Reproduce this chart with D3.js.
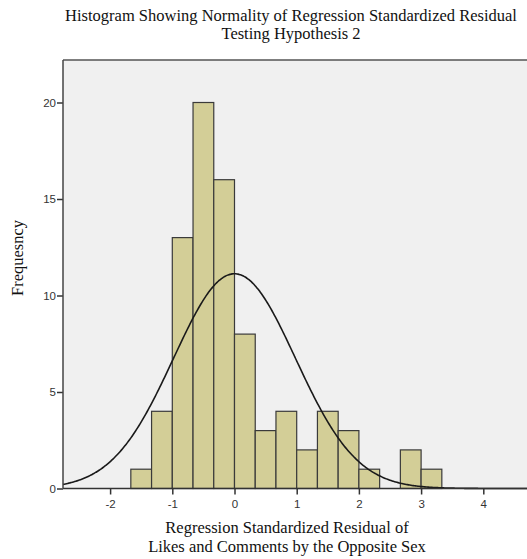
<!DOCTYPE html>
<html>
<head>
<meta charset="utf-8">
<script src="https://d3js.org/d3.v7.min.js"></script>
<style>
  html, body { margin: 0; padding: 0; background: #fff; }
  svg { display: block; }
</style>
</head>
<body>
<div id="chart"></div>
<script>
// Histogram bins (lower edges) of the standardized residuals, width 1/3
const binWidth = 1 / 3;
const binStarts = [-5/3, -4/3, -1, -2/3, -1/3, 0, 1/3, 2/3, 1, 4/3, 5/3, 2, 7/3, 8/3, 3];
const binCounts = [1, 4, 13, 20, 16, 8, 3, 4, 2, 4, 3, 1, 0, 2, 1];

// Normal curve parameters
const sampleMean = 0;
const sampleSD = 0.98;
const sampleN = 82;

// Axis ticks
const xTicks = [-2, -1, 0, 1, 2, 3, 4];
const yTicks = [0, 5, 10, 15, 20];

const titleLines = ["Histogram Showing Normality of Regression Standardized Residual", "Testing Hypothesis 2"];
const xLabelLines = ["Regression Standardized Residual of", "Likes and Comments by the Opposite Sex"];
const yLabel = "Frequesncy";

const W = 527, H = 559;
const plot = { left: 63, top: 60, right: 530, bottom: 488.5 };

const svg = d3.select("#chart").append("svg")
  .attr("width", W).attr("height", H);

const x = d3.scaleLinear().domain([0, 1]).range([234.5, 296.7]);
const y = d3.scaleLinear().domain([0, 20]).range([plot.bottom, 102.5]);

// plot background
svg.append("rect")
  .attr("x", plot.left).attr("y", plot.top)
  .attr("width", plot.right - plot.left).attr("height", plot.bottom - plot.top)
  .attr("fill", "#f0f0f0");

// bars
const bins = binStarts.map((s, i) => ({ x0: s, x1: s + binWidth, n: binCounts[i] }));
svg.append("g").selectAll("rect")
  .data(bins.filter(d => d.n > 0))
  .join("rect")
  .attr("x", d => x(d.x0))
  .attr("y", d => y(d.n))
  .attr("width", d => x(d.x1) - x(d.x0))
  .attr("height", d => y(0) - y(d.n))
  .attr("fill", "#d3ce97")
  .attr("stroke", "#3a3a3a")
  .attr("stroke-width", 1.2);

// normal curve scaled to counts per bin
const xMin = x.invert(plot.left), xMax = x.invert(plot.right);
const curve = d3.range(0, 401).map(i => {
  const v = xMin + (xMax - xMin) * i / 400;
  const z = (v - sampleMean) / sampleSD;
  const f = sampleN * binWidth * Math.exp(-0.5 * z * z) / (sampleSD * Math.sqrt(2 * Math.PI));
  return [v, f];
});
svg.append("path")
  .datum(curve)
  .attr("fill", "none")
  .attr("stroke", "#1a1a1a")
  .attr("stroke-width", 1.6)
  .attr("d", d3.line().x(d => x(d[0])).y(d => y(d[1])).curve(d3.curveBasis));

// top frame line
svg.append("line")
  .attr("x1", plot.left).attr("x2", plot.right)
  .attr("y1", plot.top).attr("y2", plot.top)
  .attr("stroke", "#555").attr("stroke-width", 1.5);

// axes
const hyphenInt = d => String(d).replace("\u2212", "-");
const xAxis = svg.append("g")
  .attr("transform", `translate(0,${plot.bottom})`)
  .call(d3.axisBottom(x).tickValues(xTicks).tickSize(6).tickSizeOuter(0).tickFormat(d => d < 0 ? "-" + Math.abs(d) : String(d)));
const yAxis = svg.append("g")
  .attr("transform", `translate(${plot.left},0)`)
  .call(d3.axisLeft(y).tickValues(yTicks).tickSize(6).tickSizeOuter(0).tickFormat(hyphenInt));

xAxis.select(".domain").remove();
yAxis.select(".domain").remove();
svg.append("line")
  .attr("x1", plot.left).attr("x2", plot.right)
  .attr("y1", plot.bottom).attr("y2", plot.bottom)
  .attr("stroke", "#333").attr("stroke-width", 1.5);
svg.append("line")
  .attr("x1", plot.left).attr("x2", plot.left)
  .attr("y1", plot.top).attr("y2", plot.bottom)
  .attr("stroke", "#444").attr("stroke-width", 1.5);

[xAxis, yAxis].forEach(g => {
  g.selectAll(".tick line").attr("stroke", "#333").attr("stroke-width", 1.5);
  g.selectAll(".tick text")
    .attr("fill", "#333")
    .style("font-family", "'Liberation Sans', Arial, sans-serif")
    .style("font-size", "11.5px");
});
xAxis.selectAll(".tick text").attr("dy", "0.9em");
yAxis.selectAll(".tick text").attr("x", -7);

// title
const serif = "'Liberation Serif', 'Times New Roman', serif";
svg.append("text")
  .attr("x", 291).attr("y", 21)
  .attr("text-anchor", "middle")
  .style("font-family", serif).style("font-size", "16.5px").attr("fill", "#111")
  .selectAll("tspan").data(titleLines).join("tspan")
  .attr("x", 291).attr("dy", (d, i) => i === 0 ? 0 : 18)
  .text(d => d);

// x-axis label
svg.append("text")
  .attr("x", 287).attr("y", 533)
  .attr("text-anchor", "middle")
  .style("font-family", serif).style("font-size", "16.5px").attr("fill", "#111")
  .selectAll("tspan").data(xLabelLines).join("tspan")
  .attr("x", 287).attr("dy", (d, i) => i === 0 ? 0 : 19)
  .text(d => d);

// y-axis label
svg.append("text")
  .attr("transform", "translate(23,258) rotate(-90)")
  .attr("text-anchor", "middle")
  .style("font-family", serif).style("font-size", "16.5px").attr("fill", "#111")
  .text(yLabel);
</script>
</body>
</html>
